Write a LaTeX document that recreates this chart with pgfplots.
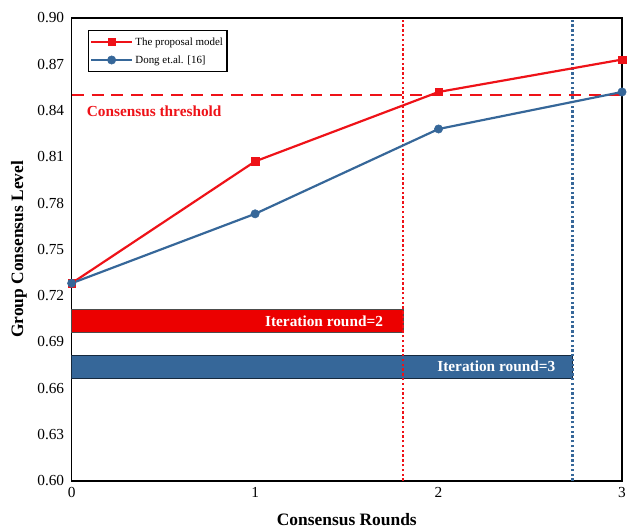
\documentclass[border=0pt]{standalone}
\usepackage{pgfplots}
\pgfplotsset{compat=1.18}
\usepackage{fontspec}
\setmainfont{Liberation Serif}
\definecolor{myred}{RGB}{238,18,24}
\definecolor{barred}{RGB}{236,0,0}
\definecolor{myblue}{RGB}{54,103,153}
\begin{document}
\begin{tikzpicture}
\begin{axis}[
  scale only axis,
  width=553pt, height=465pt,
  xmin=0, xmax=3, ymin=0.60, ymax=0.90,
  xtick={0,1,2,3},
  ytick={0.60,0.63,0.66,0.69,0.72,0.75,0.78,0.81,0.84,0.87,0.90},
  yticklabel style={/pgf/number format/fixed,/pgf/number format/fixed zerofill,/pgf/number format/precision=2},
  /pgf/number format/assume math mode=true,
  tick label style={font=\fontsize{15.4}{17}\selectfont},
  yticklabel style={xshift=-4pt},
  xticklabel style={yshift=-3pt},
  major tick length=0pt,
  axis line style={line width=1.6pt},
  xlabel={\textbf{Consensus Rounds}},
  ylabel={\textbf{Group Consensus Level}},
  label style={font=\fontsize{17.5}{20}\selectfont},
  xlabel style={at={(axis description cs:0.5,-0.0839)}, anchor=center},
  ylabel style={at={(axis description cs:-0.0958,0.5)}, anchor=center},
  legend style={at={(rel axis cs:0.0289,0.9742)}, anchor=north west, draw=black, line width=1.2pt,
    font=\fontsize{11}{13}\selectfont, row sep=5pt, inner xsep=2pt, inner ysep=5pt},
  legend cell align=left,
  legend image code/.code={\draw[#1] (0cm,0cm) -- (1.45cm,0cm); \draw[#1,only marks] plot coordinates {(0.72cm,0cm)};},
  clip=false,
]
% bars
\addplot[draw=gray!60!black, fill=barred, line width=0.5pt, forget plot] coordinates {(0,0.696) (1.806,0.696) (1.806,0.711) (0,0.711)} -- cycle;
\addplot[draw=black!60!myblue, fill=myblue, line width=0.5pt, forget plot] coordinates {(0,0.6665) (2.73,0.6665) (2.73,0.6814) (0,0.6814)} -- cycle;
\node[anchor=east, text=white, font=\fontsize{15.4}{17}\selectfont\bfseries] at (axis cs:1.716,0.7035) {Iteration round=2};
\node[anchor=east, text=white, font=\fontsize{15.4}{17}\selectfont\bfseries] at (axis cs:2.655,0.6740) {Iteration round=3};
% vertical dotted
\addplot[myred, dash pattern=on 2.4pt off 2.4pt, line width=2.2pt, forget plot] coordinates {(1.806,0.60) (1.806,0.90)};
\addplot[myblue, dash pattern=on 2.4pt off 2.4pt, line width=2.2pt, forget plot] coordinates {(2.73,0.60) (2.73,0.90)};
% threshold
\addplot[myred, dash pattern=on 12pt off 8pt, line width=2pt, forget plot] coordinates {(0,0.85) (3,0.85)};
\node[anchor=west, text=myred, font=\fontsize{15.4}{17}\selectfont\bfseries, inner sep=0pt] at (axis cs:0.0814,0.8395) {Consensus threshold};
% series
\addplot[myred, line width=2.2pt, mark=square*, mark size=3.8pt, mark options={fill=myred, line width=0.5pt}] coordinates {(0,0.728) (1,0.807) (2,0.852) (3,0.873)};
\addlegendentry{The proposal model}
\addplot[myblue, line width=2.2pt, mark=*, mark size=4.2pt, mark options={fill=myblue, line width=0.5pt}] coordinates {(0,0.728) (1,0.773) (2,0.828) (3,0.852)};
\addlegendentry{Dong et.al. [16]}
\end{axis}
\path (current axis.south west) ++(-72pt,-50pt) coordinate (bbA);
\path (current axis.north east) ++(5pt,18pt) coordinate (bbB);
\pgfresetboundingbox
\useasboundingbox (bbA) rectangle (bbB);
\end{tikzpicture}
\end{document}
